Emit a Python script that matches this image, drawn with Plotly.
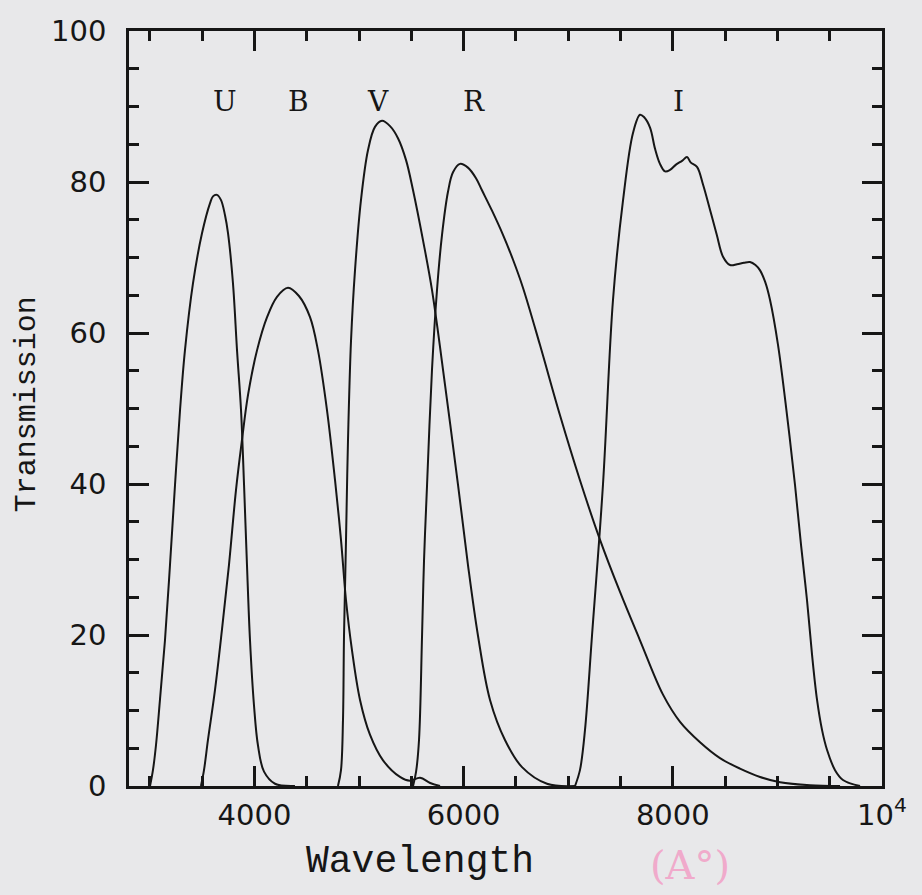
import plotly.graph_objects as go

# ---- data (wavelength in Angstrom, transmission in %) ----
U_wl = [3001, 3029, 3058, 3096, 3144, 3192, 3240, 3288, 3335, 3412, 3498, 3575, 3603, 3641, 3680, 3718, 3747, 3794, 3833, 3871, 3900, 3928, 3957, 3995, 4033, 4091, 4196, 4387]
U_T  = [0, 2.1, 5.4, 11.4, 19.3, 29.3, 39.9, 49.8, 57.7, 66.6, 73.2, 77.2, 78.1, 78.3, 77.6, 75.6, 73.2, 66.6, 57.7, 49.8, 39.9, 29.3, 19.3, 10.7, 5.4, 1.9, 0.3, 0]

B_wl = [3488, 3517, 3555, 3622, 3689, 3756, 3823, 3880, 3938, 4024, 4120, 4215, 4320, 4425, 4531, 4607, 4693, 4770, 4827, 4875, 4932, 5009, 5104, 5229, 5391, 5487, 5583, 5680, 5774]
B_T  = [0, 2.1, 6.1, 12.7, 20.7, 29.3, 39.2, 45.8, 51.8, 57.7, 62.1, 64.8, 66.0, 64.9, 62.1, 57.7, 49.8, 40.5, 32.6, 24.6, 18.0, 11.4, 6.8, 3.4, 1.2, 0.7, 1.1, 0.4, 0]

V_wl = [4798, 4827, 4846, 4856, 4875, 4894, 4923, 4961, 5018, 5085, 5152, 5219, 5296, 5372, 5449, 5516, 5611, 5697, 5822, 5946, 6041, 6137, 6252, 6395, 6558, 6797, 7065]
V_T  = [0, 2.1, 8.7, 20, 32.6, 45.8, 59, 68.3, 77.6, 84.2, 87.3, 88.1, 87.4, 85.8, 82.9, 78.9, 72.3, 65.7, 53.1, 39.9, 29.3, 19.9, 11.4, 6.1, 2.5, 0.3, 0]

R_wl = [5516, 5545, 5573, 5602, 5621, 5650, 5697, 5745, 5793, 5850, 5898, 5965, 6041, 6118, 6175, 6271, 6376, 6472, 6567, 6730, 6921, 7112, 7304, 7495, 7686, 7906, 8069, 8260, 8451, 8642, 8834, 9025, 9312, 9599]
R_T  = [0, 1.9, 6.1, 19.9, 29.9, 39.9, 55.1, 65.7, 73.0, 78.7, 81.3, 82.4, 81.9, 80.5, 78.9, 76.2, 73.0, 69.7, 66.0, 58.4, 49.1, 40.5, 32.6, 25.7, 19.3, 12.1, 8.5, 5.8, 3.7, 2.3, 1.2, 0.5, 0.1, 0]

I_wl = [7065, 7112, 7160, 7227, 7332, 7428, 7524, 7619, 7686, 7724, 7782, 7830, 7877, 7925, 7973, 8030, 8088, 8136, 8170, 8231, 8290, 8356, 8420, 8480, 8547, 8614, 8680, 8738, 8790, 8834, 8882, 8929, 9006, 9092, 9168, 9226, 9283, 9331, 9379, 9427, 9474, 9551, 9627, 9790]
I_T  = [0, 2.1, 7.4, 19.9, 39.9, 64.4, 77.6, 86.5, 88.9, 88.6, 87.2, 84.4, 82.4, 81.4, 81.6, 82.3, 82.8, 83.3, 82.6, 82.0, 79.6, 76.3, 73.0, 70.1, 69.0, 69.1, 69.3, 69.4, 69.0, 68.3, 66.8, 64.4, 58.4, 49.1, 39.9, 31.9, 24.6, 17.4, 11.4, 7.4, 4.8, 2.1, 0.8, 0]

band_names = ["U", "B", "V", "R", "I"]
band_label_x = [3718, 4416, 5181, 6099, 8050]
band_label_y = [90.6, 90.6, 90.6, 90.6, 90.6]

x_tickvals = [4000, 6000, 8000, 10000]
x_ticktext = ["4000", "6000", "8000", "10<sup>4</sup>"]
y_tickvals = [0, 20, 40, 60, 80, 100]

series = [(U_wl, U_T), (B_wl, B_T), (V_wl, V_T), (R_wl, R_T), (I_wl, I_T)]

INK = "#161616"
bg = "#e8e8ea"

fig = go.Figure()
for (wl, t), name in zip(series, band_names):
    fig.add_trace(go.Scatter(x=wl, y=t, mode="lines", name=name,
                             line=dict(color=INK, width=2, shape="spline", smoothing=1.0),
                             showlegend=False, hoverinfo="skip"))

for name, lx, ly in zip(band_names, band_label_x, band_label_y):
    fig.add_annotation(x=lx, y=ly, text=name, showarrow=False,
                       font=dict(family="DejaVu Serif", size=28, color=INK))

axis_common = dict(showline=True, linewidth=2.5, linecolor=INK, mirror="allticks",
                   ticks="inside", tickwidth=2.5, tickcolor=INK, ticklen=20,
                   showgrid=False, zeroline=False,
                   tickfont=dict(family="DejaVu Sans", size=29, color=INK))

fig.update_xaxes(range=[2800, 10000], tickvals=x_tickvals, ticktext=x_ticktext,
                 minor=dict(dtick=500, tick0=0, ticks="inside", ticklen=10, tickwidth=2.5, tickcolor=INK),
                 ticklabelstandoff=1, **axis_common)
fig.update_yaxes(range=[0, 100], tickvals=y_tickvals,
                 minor=dict(dtick=5, tick0=0, ticks="inside", ticklen=10, tickwidth=2.5, tickcolor=INK),
                 ticklabelstandoff=14, **axis_common)

fig.add_annotation(xref="paper", yref="paper", x=0.387, y=-0.1, text="Wavelength", showarrow=False,
                   xanchor="center", yanchor="middle",
                   font=dict(family="Liberation Mono", size=38, color=INK))
fig.add_annotation(xref="paper", yref="paper", x=-0.135, y=0.506, text="Transmission", showarrow=False,
                   textangle=-90, xanchor="center", yanchor="middle",
                   font=dict(family="Liberation Mono", size=30, color=INK))
fig.add_annotation(xref="paper", yref="paper", x=0.745, y=-0.105, text="(A°)", showarrow=False,
                   xanchor="center", yanchor="middle",
                   font=dict(family="DejaVu Serif", size=40, color="#f0aacb"))

fig.update_layout(width=922, height=895, paper_bgcolor=bg, plot_bgcolor=bg,
                  margin=dict(l=129, r=40, t=31, b=109))

fig.write_html("out.html", config={"displayModeBar": False},
               post_script=["document.body.style.margin='0';document.body.style.background='#e8e8ea';"])
